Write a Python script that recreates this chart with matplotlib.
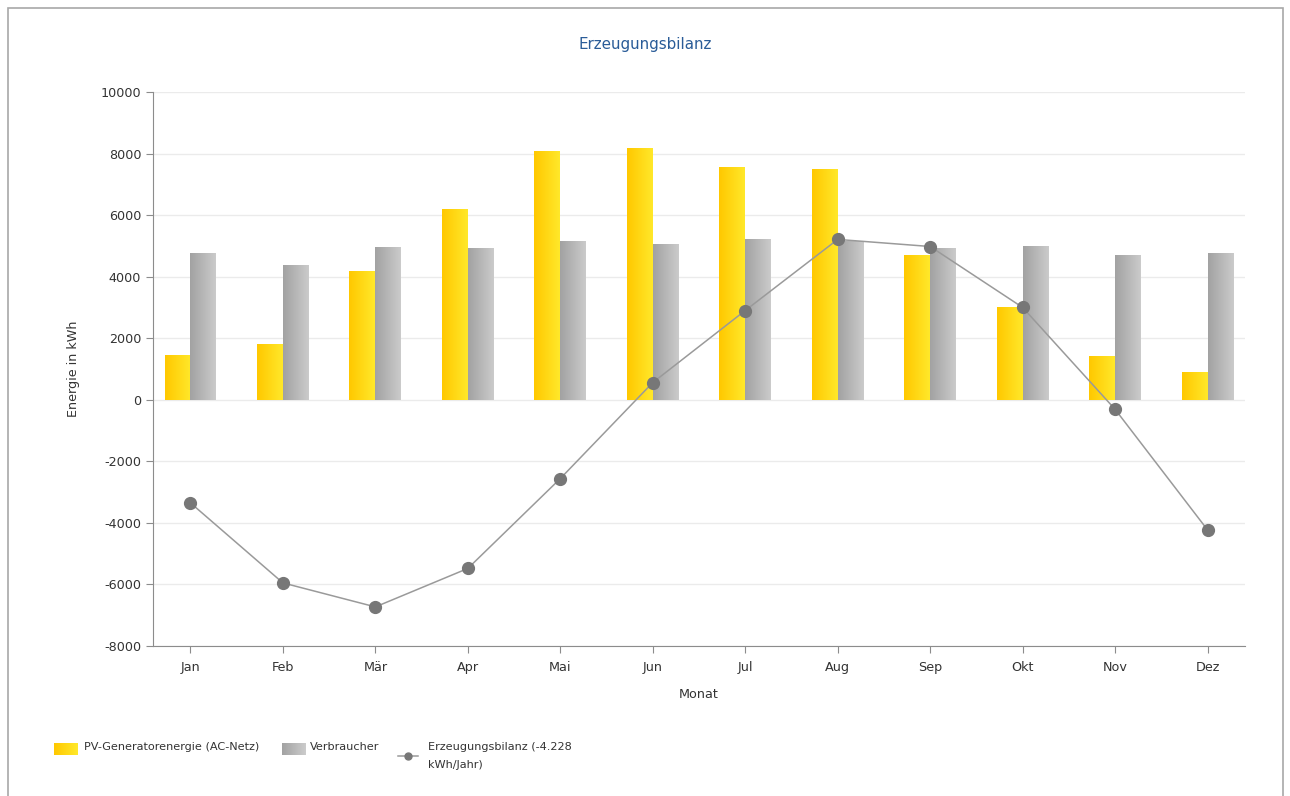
import numpy as np
import matplotlib
matplotlib.use("Agg")
import matplotlib.pyplot as plt
from matplotlib.patches import Rectangle
from matplotlib.lines import Line2D
from matplotlib.colors import LinearSegmentedColormap

months = ["Jan", "Feb", "Mär", "Apr", "Mai", "Jun", "Jul", "Aug", "Sep", "Okt", "Nov", "Dez"]
pv_energy = [1430, 1790, 4190, 6205, 8065, 8165, 7560, 7485, 4690, 3010, 1400, 880]
consumption = [4776, 4386, 4971, 4938, 5166, 5046, 5209, 5166, 4928, 4982, 4711, 4776]
balance = [-3350, -5950, -6730, -5480, -2560, 560, 2900, 5210, 4980, 3000, -310, -4228]
y_ticks = [-8000, -6000, -4000, -2000, 0, 2000, 4000, 6000, 8000, 10000]
legend_labels = ["PV-Generatorenergie (AC-Netz)", "Verbraucher",
                 "Erzeugungsbilanz (-4.228\nkWh/Jahr)"]

yellow_cm = LinearSegmentedColormap.from_list("gelb", ["#FFC800", "#FFE82A"])
grey_cm = LinearSegmentedColormap.from_list("grau", ["#A2A2A2", "#CBCBCB"])
grad = np.linspace(0, 1, 64).reshape(1, -1)

plt.rcParams["font.family"] = "DejaVu Sans"
plt.rcParams["axes.unicode_minus"] = False
W, H = 1290, 796
fig = plt.figure(figsize=(W / 100, H / 100), dpi=100)
ax = fig.add_axes([153 / W, 1 - 646 / H, 1092 / W, 554 / H])

x = np.arange(len(months))
w = 0.28
b1 = ax.bar(x - w / 2, pv_energy, w, color="none", edgecolor="none", zorder=2)
b2 = ax.bar(x + w / 2, consumption, w, color="none", edgecolor="none", zorder=2)

# horizontal gradient fill inside every bar
for bars, cm in ((b1, yellow_cm), (b2, grey_cm)):
    for r in bars:
        x0, y0 = r.get_x(), r.get_y()
        x1, y1 = x0 + r.get_width(), y0 + r.get_height()
        ax.imshow(grad, cmap=cm, aspect="auto", extent=[x0, x1, y0, y1],
                  zorder=2, interpolation="bicubic")

ax.plot(x, balance, color="#9A9A9A", lw=1.1, marker="o", markersize=8.5,
        markerfacecolor="#777777", markeredgecolor="#777777", zorder=4)

ax.set_xlim(-0.405, 11.405)
ax.set_ylim(-8000, 10000)
ax.set_yticks(y_ticks)
ax.set_xticks(x)
ax.set_xticklabels(months)
ax.grid(axis="y", color="#EBEBEB", lw=1, zorder=0)
ax.set_axisbelow(True)
for s in ("top", "right"):
    ax.spines[s].set_visible(False)
for s in ("left", "bottom"):
    ax.spines[s].set_color("#8C8C8C")
ax.tick_params(colors="#8C8C8C", labelcolor="#333333", labelsize=9.2, length=5)
ax.tick_params(axis="x", pad=6)

ax.set_ylabel("Energie in kWh", fontsize=9.2, color="#333333", labelpad=15)
ax.set_xlabel("Monat", fontsize=9.2, color="#333333", labelpad=10)
fig.text(0.5, 1 - 44 / H, "Erzeugungsbilanz", ha="center", va="center",
         fontsize=10.9, color="#2A5C98")


def px(xp, yp):
    return xp / W, 1 - yp / H


# legend below the plot, drawn by hand
def gradient_swatch(x0, cm):
    n = 24
    for i in range(n):
        fig.add_artist(Rectangle(px(x0 + 24 * i / n, 755), 24 / n / W + 0.0003, 12 / H,
                                 transform=fig.transFigure, facecolor=cm(i / (n - 1)),
                                 edgecolor="none"))


gradient_swatch(54, yellow_cm)
gradient_swatch(282, grey_cm)
fig.add_artist(Line2D([398 / W, 418 / W], [1 - 756 / H] * 2, transform=fig.transFigure,
                      color="#9A9A9A", lw=1.1))
fig.add_artist(Line2D([408 / W], [1 - 756 / H], transform=fig.transFigure, marker="o",
                      markersize=5, markerfacecolor="#777777", markeredgecolor="#777777"))
for xt, lab in zip([84, 310, 428], legend_labels):
    fig.text(*px(xt, 742), lab, ha="left", va="top", fontsize=8.1,
             color="#333333", linespacing=1.95)

# outer frame of the chart area
fig.add_artist(Rectangle((8 / W, -0.01), 1275 / W, 1 - 8 / H + 0.01,
                         transform=fig.transFigure, fill=False,
                         edgecolor="#A8A8A8", lw=1.2))

fig.savefig("out.png", dpi=100)
